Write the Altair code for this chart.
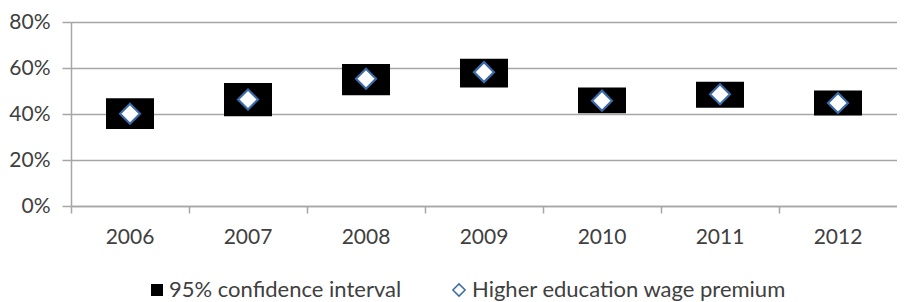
import altair as alt
import pandas as pd

years = ["2006", "2007", "2008", "2009", "2010", "2011", "2012"]
premium = [0.401, 0.463, 0.553, 0.582, 0.458, 0.486, 0.448]
ci_low = [0.335, 0.390, 0.482, 0.515, 0.403, 0.427, 0.394]
ci_high = [0.469, 0.535, 0.617, 0.640, 0.515, 0.540, 0.502]
ci_label = ["95% confidence interval"] * len(years)
est_label = ["Higher education wage premium"] * len(years)
y_ticks = [0, 0.2, 0.4, 0.6, 0.8]

df = pd.DataFrame({
    "year": years, "premium": premium, "low": ci_low, "high": ci_high,
    "ci": ci_label, "est": est_label,
})

FONT = "Lato"
GRID = "#A6A6A6"
TEXT = "#404040"
BLUE = "#3B6AA8"

x = alt.X("year:N", title=None, sort=years,
          scale=alt.Scale(paddingInner=0, paddingOuter=0),
          axis=alt.Axis(labelAngle=0, bandPosition=0, tickSize=7, tickColor=GRID,
                        domainColor=GRID, domainWidth=1.5, tickWidth=1.5,
                        labelPadding=13, labelFontSize=21, labelFont=FONT,
                        labelColor=TEXT, grid=False))

yscale = alt.Scale(domain=[0, 0.8])
yaxis = alt.Axis(values=y_ticks, format=".0%", tickSize=9, tickColor=GRID,
                 tickWidth=1.5, domainColor=GRID, domainWidth=1.5,
                 gridColor=GRID, gridWidth=1.5, labelPadding=12,
                 labelFontSize=21, labelFont=FONT, labelColor=TEXT)

bars = alt.Chart(df).mark_bar(size=48, color="black").encode(
    x=x,
    y=alt.Y("low:Q", title=None, scale=yscale, axis=yaxis),
    y2="high:Q",
    color=alt.Color("ci:N", title=None,
                    scale=alt.Scale(range=["black"]),
                    legend=alt.Legend(orient="none", legendX=75, legendY=257,
                                      symbolType="square", symbolSize=144,
                                      labelFontSize=22, labelFont=FONT,
                                      labelColor=TEXT, labelOffset=1,
                                      labelLimit=600, padding=0)),
)

est_legend = alt.Legend(orient="none", legendX=377, legendY=257,
                        symbolSize=150, symbolFillColor="white",
                        symbolStrokeWidth=1.5,
                        labelFontSize=22, labelFont=FONT,
                        labelColor=TEXT, labelOffset=2, labelLimit=600,
                        padding=0)

points = alt.Chart(df).mark_point(filled=True, fill="white",
                                  strokeWidth=2.2, size=400, opacity=1).encode(
    x=x,
    y=alt.Y("premium:Q", scale=yscale),
    shape=alt.Shape("est:N", title=None, scale=alt.Scale(range=["diamond"]),
                    legend=est_legend),
    stroke=alt.Stroke("est:N", title=None, scale=alt.Scale(range=[BLUE]),
                      legend=est_legend),
)

chart = alt.layer(bars, points).properties(
    width=826, height=184,
    autosize=alt.AutoSizeParams(type="none"),
    padding={"left": 63, "top": 14, "right": 0, "bottom": 96},
).configure_view(stroke=None).configure(background="white")

chart.save("out.html", embed_options={"renderer": "svg", "actions": False})
